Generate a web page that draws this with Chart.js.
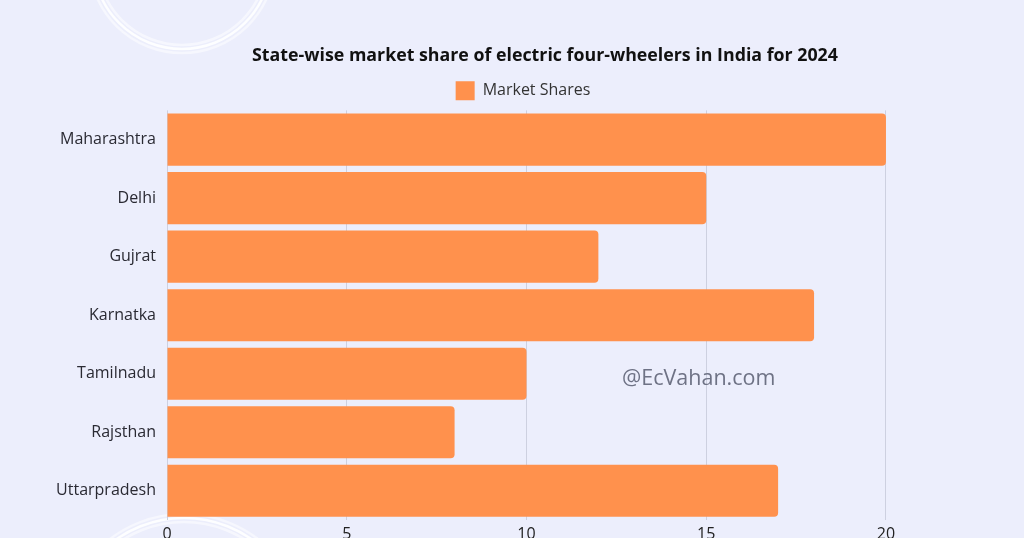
<!DOCTYPE html>
<html>
<head>
<meta charset="utf-8">
<script src="https://cdn.jsdelivr.net/npm/chart.js@4/dist/chart.umd.min.js"></script>
<style>
  html, body { margin: 0; padding: 0; background: #eceefc; overflow: hidden; }
</style>
</head>
<body>
<canvas id="myChart" width="1024" height="538"></canvas>
<script>
// data
var states = ['Maharashtra', 'Delhi', 'Gujrat', 'Karnatka', 'Tamilnadu', 'Rajsthan', 'Uttarpradesh'];
var shares = [20, 15, 12, 18, 10, 8, 17];
var xTicks = [0, 5, 10, 15, 20];

// background + the faint white rings + watermark
var decor = {
  id: 'decor',
  beforeDraw: function (chart) {
    var c = chart.ctx;
    c.save();
    c.fillStyle = '#eceefc';
    c.fillRect(0, 0, chart.width, chart.height);
    function rings(x, y, r) {
      [[r - 5, 0.55], [r - 1, 0.9], [r + 3, 0.5]].forEach(function (a) {
        c.beginPath();
        c.strokeStyle = 'rgba(255,255,255,' + a[1] + ')';
        c.lineWidth = 2.5;
        c.arc(x, y, a[0], 0, Math.PI * 2);
        c.stroke();
      });
    }
    rings(182, -40, 90);
    rings(184, 636, 119);
    c.restore();
  },
  afterLayout: function (chart) {
    // title and legend are off-centre in the original
    chart.titleBlock.left += 33;
    chart.titleBlock.right += 33;
    chart.legend.left += 11;
    chart.legend.right += 11;
  },
  afterDraw: function (chart) {
    var c = chart.ctx;
    c.save();
    c.font = '21.5px "Open Sans"';
    c.fillStyle = '#6e7285';
    c.textBaseline = 'middle';
    c.fillText('@EcVahan.com', 622, 379);
    c.restore();
  }
};

var ctx = document.getElementById('myChart').getContext('2d');
var myChart = new Chart(ctx, {
  type: 'bar',
  data: {
    labels: states,
    datasets: [{
      label: 'Market Shares',
      data: shares,
      backgroundColor: '#ff914d',
      borderRadius: 4,
      categoryPercentage: 1,
      barPercentage: 0.89
    }]
  },
  options: {
    indexAxis: 'y',
    responsive: false,
    animation: false,
    layout: { padding: 0 },
    plugins: {
      title: {
        display: true,
        text: 'State-wise market share of electric four-wheelers in India for 2024',
        color: '#111',
        font: { family: 'Open Sans', size: 17.8, weight: 'bold' },
        padding: { top: 45, bottom: 8 }
      },
      legend: {
        labels: {
          color: '#333',
          font: { family: 'Open Sans', size: 16 },
          boxWidth: 19,
          boxHeight: 19,
          padding: 7
        }
      },
      tooltip: { enabled: false }
    },
    scales: {
      x: {
        min: 0,
        max: 23.84,
        afterBuildTicks: function (s) {
          s.ticks = xTicks.map(function (v) { return { value: v }; });
        },
        afterFit: function (s) { s.height = 18; },
        grid: { color: '#cdd0e0', drawTicks: false, lineWidth: 1 },
        border: { display: false },
        ticks: {
          color: '#222',
          font: { family: 'Open Sans', size: 16, lineHeight: 1.1 },
          padding: 6
        }
      },
      y: {
        afterFit: function (s) { s.width = 167; },
        grid: { display: false },
        border: { display: false },
        ticks: {
          color: '#2a2a33',
          font: { family: 'Open Sans', size: 16 },
          padding: 3
        }
      }
    }
  },
  plugins: [decor]
});
</script>
</body>
</html>
